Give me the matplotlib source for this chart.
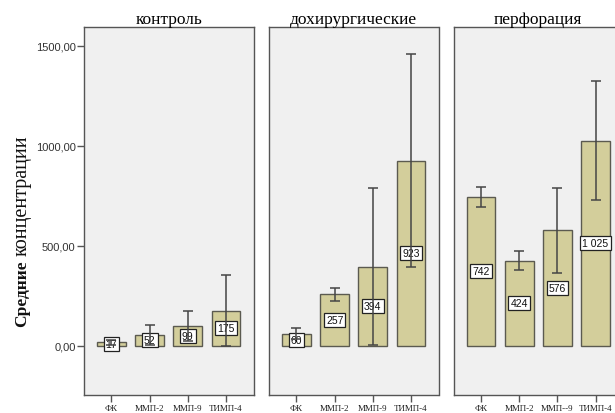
import matplotlib
matplotlib.use("Agg")
import matplotlib.pyplot as plt

# panel titles and bar categories
groups = ["контроль", "дохирургические", "перфорация"]
tick_labels = [
    ["ФК", "ММП-2", "ММП-9", "ТИМП-4"],
    ["ФК", "ММП-2", "ММП-9", "ТИМП-4"],
    ["ФК", "ММП-2", "ММП--9", "ТИМП-4"],
]
# mean concentrations and error bar ends, one row per panel
means = [[17, 52, 99, 175], [60, 257, 394, 923], [742, 424, 576, 1025]]
ci_low = [[4, 2, 23, 0], [33, 223, 1, 393], [693, 378, 362, 728]]
ci_high = [[30, 102, 175, 353], [87, 290, 787, 1457], [793, 475, 790, 1325]]
y_ticks = [0, 500, 1000, 1500]
y_label_bold = "Средние"
y_label_rest = "концентрации"

W, H = 615, 414
BAR = "#d3ce9b"
EDGE = "#5b5a50"
PANEL = "#f0f0f0"
ERR = "#454545"

fig = plt.figure(figsize=(W / 100, H / 100), dpi=100)
fig.patch.set_facecolor("white")

lefts = [84, 269, 453.5]
pw = 169.5
bottom, top = 396, 28

for i, name in enumerate(groups):
    ax = fig.add_axes([lefts[i] / W, (H - bottom) / H, pw / W, (bottom - top) / H])
    ax.set_facecolor(PANEL)
    x = list(range(len(means[i])))
    m = means[i]
    ax.bar(x, m, width=0.755, color=BAR, edgecolor=EDGE, linewidth=1.0, zorder=2)
    yerr = [[mm - lo for mm, lo in zip(m, ci_low[i])],
            [hi - mm for mm, hi in zip(m, ci_high[i])]]
    ax.errorbar(x, m, yerr=yerr, fmt="none", ecolor=ERR, elinewidth=1.1,
                capsize=3.6, capthick=1.1, zorder=4)
    for xi, mm in zip(x, m):
        lab = f"{mm:,}".replace(",", " ")
        ax.text(xi, mm / 2, lab, ha="center", va="center", fontsize=7.5,
                family="Liberation Sans", color="#111", zorder=3,
                bbox=dict(boxstyle="square,pad=0.2", fc="white", ec="#222", lw=0.9))

    ax.set_xlim(-0.72, 3.72)
    ax.set_ylim(-247, 1593)
    ax.set_xticks(x)
    ax.set_xticklabels(tick_labels[i], family="Liberation Serif", fontsize=6.5, color="#222")
    ax.tick_params(axis="x", direction="out", length=5, width=1, color="#555", pad=1.5)
    for sp in ax.spines.values():
        sp.set_color("#555")
        sp.set_linewidth(1.0)
    ax.set_title(name, family="Liberation Serif", fontsize=12.5, pad=3, color="black")

    if i == 0:
        ax.set_yticks(y_ticks)
        ax.set_yticklabels([f"{v:.2f}".replace(".", ",") for v in y_ticks],
                           family="Liberation Sans", fontsize=8, color="#333")
        ax.tick_params(axis="y", direction="out", length=5, width=1, color="#555", pad=1)
    else:
        ax.set_yticks(y_ticks)
        ax.tick_params(axis="y", left=False, labelleft=False)

# y axis title: first word heavier, chained upward
t1 = fig.text(22 / W, (H - 327) / H, y_label_bold, rotation=90, ha="center", va="bottom",
              family="Liberation Serif", fontsize=12.5, weight="bold", color="#111")
r = fig.canvas.get_renderer()
bb = t1.get_window_extent(r)
fig.text(22 / W, (bb.y1 + 4) / H, y_label_rest, rotation=90, ha="center", va="bottom",
         family="Liberation Serif", fontsize=14.5, color="#111")

fig.savefig("out.png", dpi=100)
